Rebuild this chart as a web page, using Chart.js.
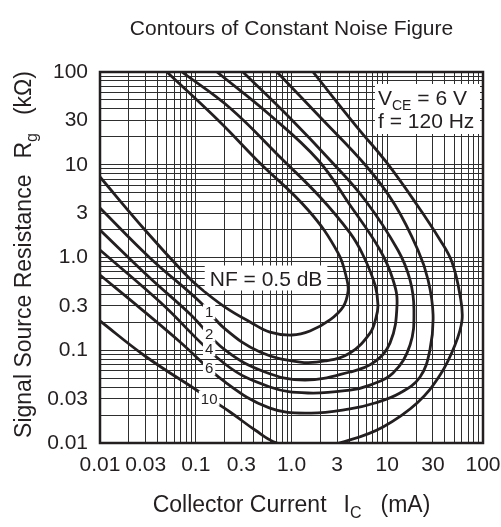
<!DOCTYPE html>
<html>
<head>
<meta charset="utf-8">
<script src="https://cdn.jsdelivr.net/npm/chart.js@4.4.1/dist/chart.umd.min.js"></script>
<style>
    html, body { margin: 0; padding: 0; background: #fff; }
    canvas { display: block; }
</style>
</head>
<body>
<canvas id="chart" width="501" height="527"></canvas>
<script>
// Contours of constant noise figure: [Ic (mA), Rg (kOhm)] along each curve,
// from the top edge, round the right-hand bend, back out to the left edge
const nf05 = [[0.050, 100], [0.179, 28.9], [0.436, 11.2], [1.49, 3.25], [3.06, 1.12], [3.80, 0.572],
    [3.89, 0.425], [3.45, 0.292], [2.52, 0.212], [1.56, 0.161], [1.01, 0.146], [0.595, 0.157],
    [0.369, 0.202], [0.202, 0.292], [0.111, 0.469], [0.074, 0.698], [0.0295, 1.98], [0.010, 7.38]];
const nf1 = [[0.0718, 100], [0.228, 40.9], [0.815, 11.25], [1.985, 4.49], [4.08, 1.84], [5.58, 1.064],
    [7.45, 0.506], [8.00, 0.308], [7.62, 0.223], [6.61, 0.153], [4.08, 0.0933], [2.24, 0.0766],
    [1.227, 0.0746], [0.469, 0.0957], [0.202, 0.170], [0.111, 0.331], [0.0333, 0.989], [0.010, 3.42]];
const nf2 = [[0.1667, 100], [0.595, 34.4], [1.892, 11.25], [4.08, 3.68], [8.40, 1.205], [11.5, 0.572],
    [12.65, 0.308], [10.7, 0.120], [7.10, 0.0729], [4.08, 0.0583], [1.384, 0.0477], [0.528, 0.0583],
    [0.202, 0.1007], [0.0871, 0.246], [0.0333, 0.601], [0.010, 1.98]];
const nf4 = [[0.311, 100], [0.964, 31.9], [2.52, 11.25], [5.86, 4.17], [12.9, 1.205], [17.3, 0.572],
    [19.0, 0.272], [17.3, 0.114], [11.5, 0.0569], [6.61, 0.0421], [4.08, 0.0372], [1.486, 0.0346],
    [0.595, 0.0402], [0.202, 0.0711], [0.0424, 0.331], [0.010, 1.205]];
const nf6 = [[0.706, 100], [1.985, 32.7], [6.15, 9.46], [12.05, 3.68], [20.9, 1.205], [26.7, 0.572],
    [30.1, 0.240], [27.9, 0.1007], [22.0, 0.0515], [13.6, 0.0346], [7.45, 0.0270], [4.08, 0.0233],
    [1.56, 0.0210], [0.595, 0.0238], [0.202, 0.0455], [0.0686, 0.1228], [0.0262, 0.285], [0.010, 0.647]];
const nf10 = [[1.678, 100], [4.83, 25.5], [9.93, 10.45], [20.5, 3.68], [35.6, 1.545], [47.4, 0.893],
    [57.5, 0.394], [60.4, 0.212], [51.0, 0.114], [35.6, 0.054], [20.5, 0.027], [9.03, 0.0149],
    [4.08, 0.0108], [1.56, 0.0088], [0.706, 0.010], [0.416, 0.0138], [0.228, 0.0216], [0.098, 0.0382],
    [0.0295, 0.0867], [0.010, 0.207]];

// Curve tags written on the lower branches
const curveTags = ['1', '2', '4', '6', '10'];
const taggedCurves = [nf1, nf2, nf4, nf6, nf10];
const TAG_IC = 0.138;

// Tag for the innermost curve (centre of the text, in data units)
const NF_TAG = 'NF = 0.5 dB';
const NF_TAG_AT = [0.542, 0.601];

// Axis tick labels (same on both axes)
const tickValues = [0.01, 0.03, 0.1, 0.3, 1, 3, 10, 30, 100];
const tickLabels = ['0.01', '0.03', '0.1', '0.3', '1.0', '3', '10', '30', '100'];

const FAMILY = '"Liberation Sans", Arial, Helvetica, sans-serif';
const INK = '#231f20';
const GRID = '#2e2e2e';

function font(size) {
    return `${size}px ${FAMILY}`;
}

// 1..9 per decade, 0.01 .. 100
const gridValues = [];
[0.01, 0.1, 1, 10].forEach(d => {
    for (let k = 1; k <= 9; k++) gridValues.push(Number((k * d).toPrecision(3)));
});
gridValues.push(100);

function tickText(value) {
    const i = tickValues.findIndex(v => Math.abs(Math.log10(v) - Math.log10(value)) < 1e-6);
    return i >= 0 ? tickLabels[i] : '';
}

// Rg on the lower branch at a given Ic (log-log interpolation, searched from the left end)
function lowerBranchAt(points, ic) {
    const lx = Math.log10(ic);
    for (let i = points.length - 1; i > 0; i--) {
        const a = points[i], b = points[i - 1];
        const la = Math.log10(a[0]), lb = Math.log10(b[0]);
        if ((lx - la) * (lx - lb) <= 0 && la !== lb) {
            const t = (lx - la) / (lb - la);
            return Math.pow(10, Math.log10(a[1]) + t * (Math.log10(b[1]) - Math.log10(a[1])));
        }
    }
    return null;
}

// Text run made of [text, size, dy] pieces and plain pixel gaps
function runWidth(ctx, parts) {
    let w = 0;
    parts.forEach(p => {
        if (typeof p === 'number') { w += p; return; }
        ctx.font = font(p[1]);
        w += ctx.measureText(p[0]).width;
    });
    return w;
}

function drawRun(ctx, parts, x, y) {
    parts.forEach(p => {
        if (typeof p === 'number') { x += p; return; }
        ctx.font = font(p[1]);
        ctx.fillText(p[0], x, y + (p[2] || 0));
        x += ctx.measureText(p[0]).width;
    });
}

function boxedText(ctx, text, size, cx, cy, padX, boxH) {
    ctx.font = font(size);
    const w = ctx.measureText(text).width;
    ctx.fillStyle = '#fff';
    ctx.fillRect(cx - w / 2 - padX, cy - boxH / 2, w + padX * 2, boxH);
    ctx.fillStyle = INK;
    ctx.textAlign = 'center';
    ctx.textBaseline = 'alphabetic';
    ctx.fillText(text, cx, cy + size * 0.36);
}

const annotations = {
    id: 'annotations',
    afterDraw(chart) {
        const { ctx, chartArea: area, scales: { x, y } } = chart;
        ctx.save();

        // curve tags
        taggedCurves.forEach((pts, i) => {
            const rg = lowerBranchAt(pts, TAG_IC);
            if (rg === null) return;
            boxedText(ctx, curveTags[i], 15, x.getPixelForValue(TAG_IC), y.getPixelForValue(rg), 2, 15);
        });
        boxedText(ctx, NF_TAG, 21, x.getPixelForValue(NF_TAG_AT[0]), y.getPixelForValue(NF_TAG_AT[1]), 5, 25);

        // test conditions box
        const bx = area.right - 108;
        const by = area.top + 12;
        ctx.fillStyle = '#fff';
        ctx.fillRect(bx, by, 105, 50);
        ctx.fillStyle = INK;
        ctx.textAlign = 'left';
        ctx.textBaseline = 'alphabetic';
        drawRun(ctx, [['V', 21], ['CE', 14, 5], [' = 6 V', 21]], bx + 3, by + 21);
        drawRun(ctx, [['f = 120 Hz', 21]], bx + 3, by + 44);

        // plot frame
        ctx.strokeStyle = INK;
        ctx.lineWidth = 2.5;
        ctx.strokeRect(area.left, area.top, area.right - area.left, area.bottom - area.top);

        // title and axis titles
        const midX = (area.left + area.right) / 2;
        const midY = (area.top + area.bottom) / 2 - 3;
        ctx.fillStyle = INK;
        ctx.font = font(21);
        ctx.textAlign = 'center';
        ctx.fillText('Contours of Constant Noise Figure', midX, 35);

        ctx.textAlign = 'left';
        const xTitle = [['Collector Current', 23], 17, ['I', 23], ['C', 16, 6], 19, ['(mA)', 23]];
        drawRun(ctx, xTitle, midX - runWidth(ctx, xTitle) / 2, 512);

        const yTitle = [['Signal Source Resistance', 23], 16, ['R', 23], ['g', 16, 6], 18, ['(k\u03a9)', 23]];
        ctx.translate(31, midY);
        ctx.rotate(-Math.PI / 2);
        drawRun(ctx, yTitle, -runWidth(ctx, yTitle) / 2, 0);

        ctx.restore();
    }
};

function logAxis(extra) {
    return Object.assign({
        type: 'logarithmic',
        min: 0.01,
        max: 100,
        afterBuildTicks: (scale) => {
            scale.ticks = gridValues.map(v => ({ value: v }));
        },
        grid: { color: GRID, lineWidth: 1, drawTicks: false },
        border: { display: false },
        ticks: {
            autoSkip: false,
            maxRotation: 0,
            minRotation: 0,
            color: INK,
            font: { family: FAMILY, size: 21 },
            callback: (value) => tickText(value)
        }
    }, extra);
}

// fixed axis sizes; end labels may hang past the plot area
const xAxis = logAxis({
    afterFit: (scale) => {
        scale.height = 84;
        scale.paddingLeft = 0;
        scale.paddingRight = 0;
    }
});
xAxis.ticks.padding = 10;
const yAxis = logAxis({
    afterFit: (scale) => {
        scale.width = 100;
        scale.paddingTop = 0;
        scale.paddingBottom = 0;
    }
});
yAxis.ticks.padding = 12;

const contours = [nf05, nf1, nf2, nf4, nf6, nf10];

new Chart(document.getElementById('chart'), {
    type: 'line',
    data: {
        datasets: contours.map(pts => ({
            data: pts.map(p => ({ x: p[0], y: p[1] })),
            borderColor: INK,
            borderWidth: 2.8,
            tension: 0.4,
            pointRadius: 0,
            fill: false
        }))
    },
    options: {
        responsive: false,
        animation: false,
        devicePixelRatio: 1,
        layout: { padding: { left: 0, right: 18, top: 72, bottom: 0 } },
        plugins: {
            legend: { display: false },
            tooltip: { enabled: false }
        },
        scales: { x: xAxis, y: yAxis }
    },
    plugins: [annotations]
});
</script>
</body>
</html>
